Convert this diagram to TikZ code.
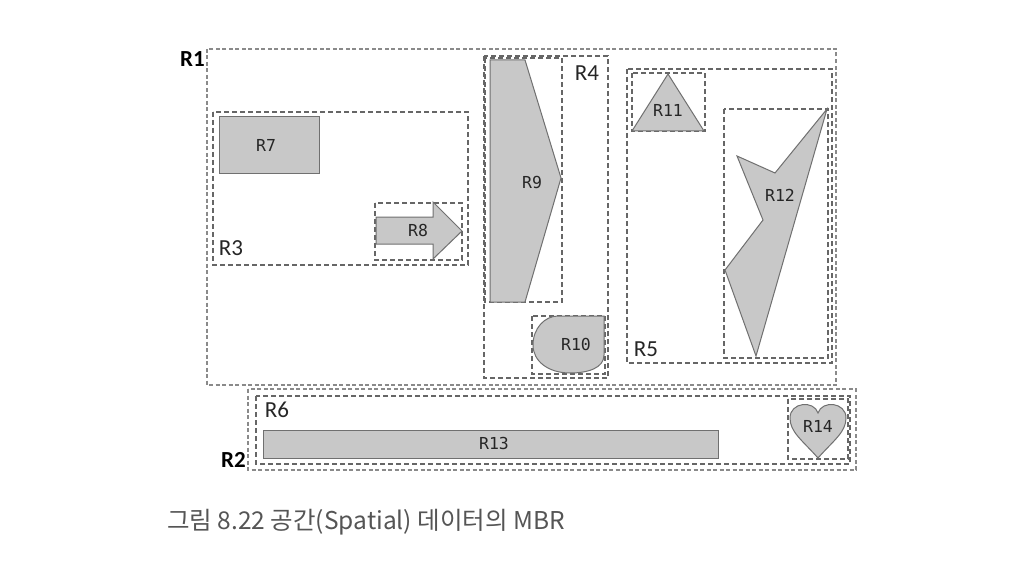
\documentclass[tikz,border=0pt]{standalone}
\usepackage{fontspec}
\newfontfamily\labfont{Carlito}
\newfontfamily\monofont{DejaVu Sans Mono}
\newfontfamily\cjkfont{Noto Sans CJK KR}
\definecolor{dashc}{HTML}{666666}
\definecolor{outc}{HTML}{8A8A8A}
\definecolor{shapefill}{HTML}{C8C8C8}
\definecolor{shapedraw}{HTML}{707070}
\definecolor{capc}{HTML}{555555}
\tikzset{
  mbr/.style={draw=dashc, line width=1.3pt, dash pattern=on 5pt off 3pt},
  outer/.style={draw=outc, line width=1.1pt, dash pattern=on 4pt off 2.5pt},
  shp/.style={fill=shapefill, draw=shapedraw, line width=1pt, line join=miter},
  monolab/.style={font=\monofont\fontsize{16.5}{19}\selectfont, text=black!85, inner sep=0pt},
  reglab/.style={font=\labfont\fontsize{23}{25}\selectfont, text=black!85, inner sep=0pt},
  boldlab/.style={font=\labfont\bfseries\fontsize{23}{25}\selectfont, text=black, inner sep=0pt},
}
\begin{document}
\begin{tikzpicture}[x=1pt,y=-1pt]
\useasboundingbox[fill=white] (0,0) rectangle (1032,588);
% R1
\draw[outer] (207,49) rectangle (836,385);
\node[boldlab, anchor=east] (lr1) at (205,59) {R1};
% R3
\draw[mbr] (213,112) rectangle (468,265);
\node[reglab] (lr3) at (231,248) {R3};
% R7
\draw[shp] (219,117) rectangle (319,174);
\node[monolab] (lr7) at (266,145.5) {R7};
% R8
\draw[mbr] (375,203) rectangle (462,260);
\draw[shp] (376,217) -- (433,217) -- (433,202) -- (462,231) -- (433,259) -- (433,244) -- (376,244) -- cycle;
\node[monolab] (lr8) at (418,230) {R8};
% R4
\draw[mbr] (484,56) rectangle (608,378);
\node[reglab] (lr4) at (587,73) {R4};
% R9
\draw[mbr] (485,58) rectangle (562,302);
\draw[shp] (490,60) -- (525,60) -- (561,178) -- (525,302) -- (490,302) -- cycle;
\node[monolab] (lr9) at (532,182) {R9};
% R10
\draw[mbr] (532,316) rectangle (605,374);
\draw[shp] (604,316) -- (604,355) .. controls (604,368) and (588,373) .. (570,373) .. controls (548,373) and (533,361) .. (533,345) .. controls (533,328) and (545,316) .. (558,316) -- cycle;
\node[monolab] (lr10) at (576,344) {R10};
% R5
\draw[mbr] (627,69) rectangle (832,363);
\node[reglab] (lr5) at (646,349) {R5};
% R11
\draw[mbr] (632,73) rectangle (705,131);
\draw[shp] (668,74) -- (704,131) -- (632,131) -- cycle;
\node[monolab] (lr11) at (668,110) {R11};
% R12
\draw[mbr] (724,109) rectangle (828,358);
\draw[shp] (827,109) -- (775,173) -- (737,156) -- (763,220) -- (725,270) -- (756,356) -- cycle;
\node[monolab] (lr12) at (780,195) {R12};
% R2
\draw[outer] (248,389) rectangle (856,470);
\node[boldlab, anchor=east] (lr2) at (246,460) {R2};
% R6
\draw[mbr] (256,396) rectangle (850,464);
\node[reglab] (lr6) at (277,410) {R6};
% R13
\draw[shp] (263,430) rectangle (718,458);
\node[monolab] (lr13) at (494,443) {R13};
% R14
\draw[mbr] (788,399) rectangle (848,459);
\draw[shp] (818,458) .. controls (802,440) and (790,432) .. (790,418) .. controls (790,402) and (814,400) .. (818,413) .. controls (822,400) and (846,402) .. (846,418) .. controls (846,432) and (834,440) .. (818,458) -- cycle;
\node[monolab] (lr14) at (818,426) {R14};
% caption
\node[anchor=west, inner sep=0pt, text=capc, font=\cjkfont\fontsize{24.5}{27}\selectfont] (cap) at (167,522) {그림 8.22 공간(Spatial) 데이터의 MBR};
\end{tikzpicture}
\end{document}
